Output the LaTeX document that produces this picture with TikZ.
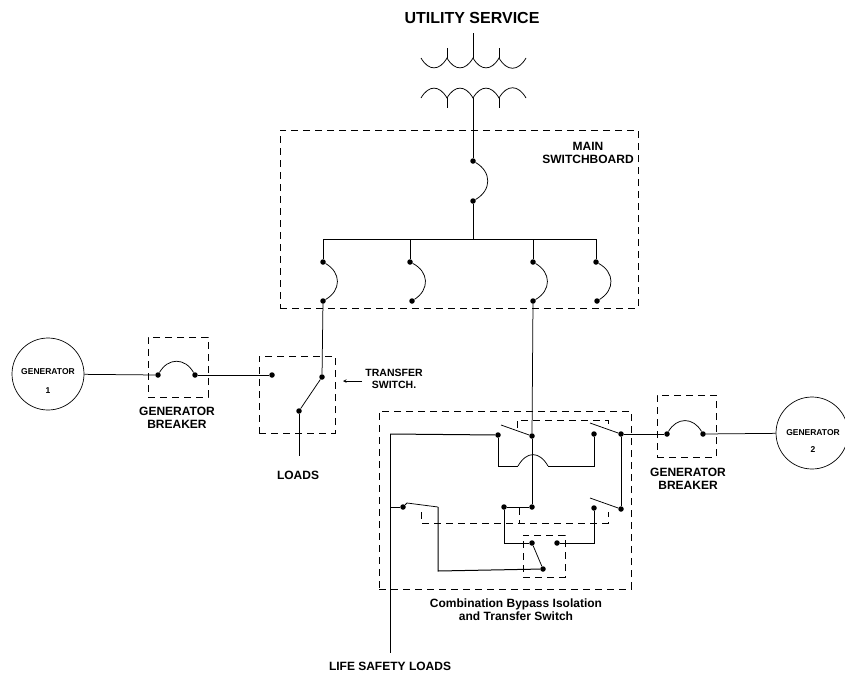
\documentclass[tikz,border=0pt]{standalone}
\usepackage{fontspec}
\setmainfont{Liberation Sans}
\usetikzlibrary{arrows,positioning}

\begin{document}
\begin{tikzpicture}[
    x=1pt, y=-1pt,
    dot/.style={circle, fill=black, inner sep=0pt, minimum size=5.5pt},
    wire/.style={draw, line width=0.75pt},
    heavy/.style={draw, line width=1pt},
    encl/.style={draw, dash pattern=on 7pt off 5pt, line width=0.7pt},
    label/.style={align=center, font=\fontsize{12}{12.6}\selectfont\bfseries, inner sep=0pt},
    genlabel/.style={align=center, font=\fontsize{8.5}{9}\selectfont\bfseries, inner sep=0pt},
    gen/.style={circle, draw, line width=0.7pt, minimum size=72pt, inner sep=0pt},
    arcsw/.style={bend left=60, looseness=1.3},
    coilup/.style={bend left=60, looseness=1.5},
    coildown/.style={bend right=60, looseness=1.5}
]
\useasboundingbox (0,0) rectangle (845,673);

% Transformer
\node[font=\fontsize{16}{18}\selectfont\bfseries, inner sep=0pt] (utility) at (472,18) {UTILITY SERVICE};
\coordinate (sec0) at (421,58);
\coordinate (sec1) at (447,58);
\coordinate (sec2) at (473,58);
\coordinate (sec3) at (499,58);
\coordinate (sec4) at (526,58);
\coordinate (pri0) at (421,98);
\coordinate (pri1) at (447,98);
\coordinate (pri2) at (473,98);
\coordinate (pri3) at (499,98);
\coordinate (pri4) at (526,98);
\coordinate (servicetop) at (473,33);
\coordinate (sec1top) at (447,48);
\coordinate (sec3top) at (499,48);
\coordinate (pri1bot) at (447,108);
\coordinate (pri3bot) at (499,108);
\draw[wire] (sec0) to[coildown] (sec1) to[coildown] (sec2) to[coildown] (sec3) to[coildown] (sec4);
\draw[wire] (pri0) to[coilup] (pri1) to[coilup] (pri2) to[coilup] (pri3) to[coilup] (pri4);
\draw[wire] (servicetop) -- (sec2);
\draw[wire] (sec1top) -- (sec1);
\draw[wire] (sec3top) -- (sec3);
\draw[wire] (pri1) -- (pri1bot);
\draw[wire] (pri3) -- (pri3bot);

% Main switchboard
\node[encl, minimum width=358pt, minimum height=178pt, inner sep=0pt] (mainbox) at (459,219) {};
\node[label] (mainlabel) at (588,153) {MAIN\\SWITCHBOARD};
\node[dot] (maintop) at (473,161) {};
\node[dot] (mainbot) at (473,201) {};
\coordinate (busmid) at (473,239);
\coordinate (busa) at (323,239);
\coordinate (busb) at (410,239);
\coordinate (busc) at (533,239);
\coordinate (busd) at (596,239);
\node[dot] (fa) at (323,262) {};
\node[dot] (fb) at (410,262) {};
\node[dot] (fc) at (533,262) {};
\node[dot] (fd) at (596,262) {};
\node[dot] (ga) at (323,301) {};
\node[dot] (gb) at (412,301) {};
\node[dot] (gc) at (533,301) {};
\node[dot] (gd) at (597,301) {};

\draw[wire] (pri2) -- (maintop);
\draw[wire] (maintop) to[arcsw] (mainbot);
\draw[wire] (mainbot) -- (busmid);
\draw[heavy] (busa) -- (busd);
\draw[wire] (busa) -- (fa);
\draw[wire] (busb) -- (fb);
\draw[wire] (busc) -- (fc);
\draw[wire] (busd) -- (fd);
\draw[wire] (fa) to[arcsw] (ga);
\draw[wire] (fb) to[arcsw] (gb);
\draw[wire] (fc) to[arcsw] (gc);
\draw[wire] (fd) to[arcsw] (gd);

% Generator 1 side
\node[gen] (gen1) at (48,374) {};
\node[genlabel] (gen1name) at (48,372) {GENERATOR};
\node[genlabel] (gen1num) at (48,391) {1};
\node[encl, minimum width=60pt, minimum height=60pt, inner sep=0pt] (brk1box) at (178,367) {};
\node[dot] (brk1a) at (158,375) {};
\node[dot] (brk1b) at (195,375) {};
\node[label] (brk1label) at (177,418) {GENERATOR\\BREAKER};
\node[encl, minimum width=76pt, minimum height=77pt, inner sep=0pt] (tsbox) at (297,394.5) {};
\node[dot] (tsa) at (272,375) {};
\node[dot] (tsb) at (322,377) {};
\node[dot] (tsc) at (299,411) {};
\coordinate (loadsend) at (299,456);
\node[label] (loads) at (298,475) {LOADS};
\node[align=center, font=\fontsize{10.5}{12.6}\selectfont\bfseries, inner sep=0pt] (tslabel) at (394,379) {TRANSFER\\SWITCH.};
\coordinate (tsarrowstart) at (362,381);
\coordinate (tsarrow) at (343,381);

\draw[wire] (gen1) -- (brk1a);
\draw[wire] (brk1a) to[arcsw] (brk1b);
\draw[heavy] (brk1b) -- (tsa);
\draw[wire] (ga) -- (tsb);
\draw[wire] (tsb) -- (tsc);
\draw[wire] (tsc) -- (loadsend);
\draw[->, >=stealth, line width=0.6pt] (tsarrowstart) -- (tsarrow);

% Combination bypass isolation and transfer switch
\node[encl, minimum width=252pt, minimum height=178pt, inner sep=0pt] (cbox) at (505,500) {};
\coordinate (ia) at (517,428);
\coordinate (ib) at (517,420);
\coordinate (ic) at (608,420);
\coordinate (id) at (608,428);
\draw[encl] (ia) -- (ib) -- (ic) -- (id);
\coordinate (ie) at (421,512);
\coordinate (if) at (421,523);
\coordinate (ig) at (608,523);
\coordinate (ih) at (608,512);
\coordinate (ii) at (519,508);
\coordinate (ij) at (519,523);
\draw[encl] (ie) -- (if) -- (ig) -- (ih);
\draw[encl] (ii) -- (ij);
\node[encl, minimum width=42pt, minimum height=42pt, inner sep=0pt] (smallbox) at (544,556) {};

\node[dot] (sa) at (498,435) {};
\node[dot] (sb) at (532,436) {};
\node[dot] (sc) at (594,434) {};
\node[dot] (sd) at (621,434) {};
\node[dot] (se) at (504,507) {};
\node[dot] (sf) at (532,507) {};
\node[dot] (sg) at (594,508) {};
\node[dot] (sh) at (621,509) {};
\node[dot] (si) at (403,507) {};
\node[dot] (sj) at (532,543) {};
\node[dot] (sk) at (557,543) {};
\node[dot] (sl) at (543,569) {};
\coordinate (bladea) at (501,425);
\coordinate (bladeb) at (590,423);
\coordinate (bladec) at (590,498);
\coordinate (blade) at (438,507);
\coordinate (bladee) at (407,503);
\coordinate (bypl) at (518,466);
\coordinate (bypr) at (548,466);
\coordinate (lsa) at (390,434);
\coordinate (lsb) at (390,507);
\coordinate (lsend) at (390,653);
\coordinate (lowl) at (438,571);
\coordinate (fw) at (504,543);
\coordinate (gw) at (594,543);
\coordinate (saw) at (498,466);
\coordinate (scw) at (594,466);

\draw[wire] (gc) -- (sb);
\draw[wire] (sb) -- (bladea);
\draw[wire] (sd) -- (bladeb);
\draw[wire] (sf) -- (se);
\draw[wire] (sh) -- (bladec);
\draw[wire] (si) -- (bladee) -- (blade);
\draw[wire] (sb) -- (sf);
\draw[heavy] (lsa) -- (sa);
\draw[heavy] (lsa) -- (lsend);
\draw[wire] (lsb) -- (si);
\draw[wire] (sa) -- (saw) -- (bypl);
\draw[wire] (bypl) to[coilup] (bypr);
\draw[wire] (bypr) -- (scw) -- (sc);
\draw[heavy] (sd) -- (sh);
\draw[heavy] (blade) -- (lowl) -- (sl);
\draw[wire] (se) -- (fw) -- (sj);
\draw[wire] (sj) -- (sl);
\draw[wire] (sk) -- (gw) -- (sg);
\node[label] (clabel) at (516,609.5) {Combination Bypass Isolation\\and Transfer Switch};
\node[label] (lifelabel) at (390,666) {LIFE SAFETY LOADS};

% Generator 2 side
\node[gen] (gen2) at (812,433) {};
\node[genlabel] (gen2name) at (813,433) {GENERATOR};
\node[genlabel] (gen2num) at (813,450) {2};
\node[encl, minimum width=59pt, minimum height=62pt, inner sep=0pt] (brk2box) at (686.5,426) {};
\node[dot] (brk2a) at (667,434) {};
\node[dot] (brk2b) at (703,434) {};
\node[label] (brk2label) at (688,478.5) {GENERATOR\\BREAKER};
\draw[heavy] (sd) -- (brk2a);
\draw[wire] (brk2a) to[arcsw] (brk2b);
\draw[wire] (brk2b) -- (gen2);

\end{tikzpicture}
\end{document}
